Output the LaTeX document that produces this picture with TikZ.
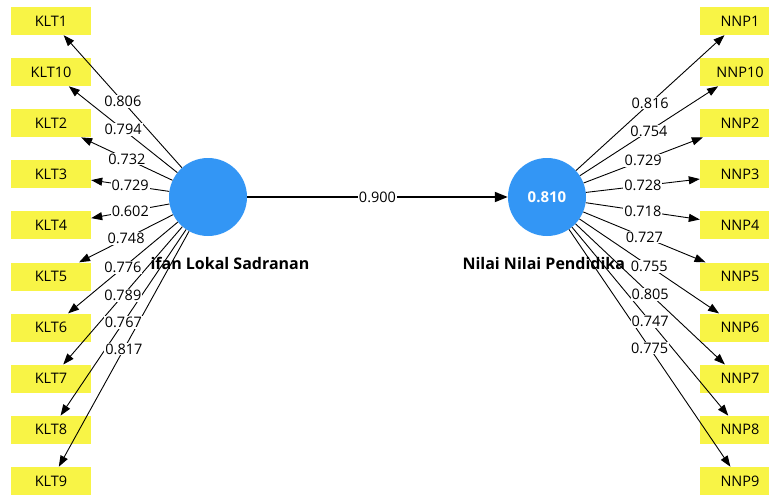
\documentclass[tikz,border=0pt]{standalone}
\usepackage{fontspec}
\setmainfont{Open Sans}
\usepackage{tikz}
\usetikzlibrary{arrows.meta, positioning, calc}
\definecolor{latblue}{RGB}{51, 150, 245}
\definecolor{indyellow}{RGB}{248, 244, 70}

\tikzset{
  latent/.style={circle, fill=latblue, minimum size=78pt, inner sep=0pt, text=white, font=\fontsize{15}{17}\selectfont\bfseries},
  indbox/.style={rectangle, fill=indyellow, minimum width=80pt, minimum height=28pt, inner sep=0pt, font=\fontsize{14.5}{17}\selectfont},
  ind/.style={-{Triangle[length=11pt, width=8pt]}, line width=0.9pt},
  path/.style={-{Triangle[length=13pt, width=10pt]}, line width=1.8pt},
  load/.style={fill=white, inner sep=1pt, font=\fontsize{14.5}{17}\selectfont},
  latname/.style={anchor=west, font=\fontsize{16}{19}\selectfont\bfseries}
}

\begin{document}
\begin{tikzpicture}[x=1pt, y=-1pt]
  \useasboundingbox (0, 0) rectangle (769, 495);
  \clip (0, 0) rectangle (769, 495);

  % Latent variables
  \node[latent] (klt) at (208, 197) {};
  \node[latent] (nnp) at (547, 197) {0.810};

  % Indicators of the left construct
  \node[indbox] (klt1) at (51, 21) {KLT1};
  \node[indbox] (klt10) at (51, 72.1) {KLT10};
  \node[indbox] (klt2) at (51, 123.2) {KLT2};
  \node[indbox] (klt3) at (51, 174.3) {KLT3};
  \node[indbox] (klt4) at (51, 225.4) {KLT4};
  \node[indbox] (klt5) at (51, 276.5) {KLT5};
  \node[indbox] (klt6) at (51, 327.6) {KLT6};
  \node[indbox] (klt7) at (51, 378.7) {KLT7};
  \node[indbox] (klt8) at (51, 429.8) {KLT8};
  \node[indbox] (klt9) at (51, 480.9) {KLT9};

  % Indicators of the right construct
  \node[indbox] (nnp1) at (740, 21) {NNP1};
  \node[indbox] (nnp10) at (740, 72.1) {NNP10};
  \node[indbox] (nnp2) at (740, 123.2) {NNP2};
  \node[indbox] (nnp3) at (740, 174.3) {NNP3};
  \node[indbox] (nnp4) at (740, 225.4) {NNP4};
  \node[indbox] (nnp5) at (740, 276.5) {NNP5};
  \node[indbox] (nnp6) at (740, 327.6) {NNP6};
  \node[indbox] (nnp7) at (740, 378.7) {NNP7};
  \node[indbox] (nnp8) at (740, 429.8) {NNP8};
  \node[indbox] (nnp9) at (740, 480.9) {NNP9};

  % Outer loadings, left
  \draw[ind] (klt) -- coordinate (a1) (klt1);
  \draw[ind] (klt) -- coordinate (a10) (klt10);
  \draw[ind] (klt) -- coordinate (a2) (klt2);
  \draw[ind] (klt) -- coordinate (a3) (klt3);
  \draw[ind] (klt) -- coordinate (a4) (klt4);
  \draw[ind] (klt) -- coordinate (a5) (klt5);
  \draw[ind] (klt) -- coordinate (a6) (klt6);
  \draw[ind] (klt) -- coordinate (a7) (klt7);
  \draw[ind] (klt) -- coordinate (a8) (klt8);
  \draw[ind] (klt) -- coordinate (a9) (klt9);

  % Outer loadings, right
  \draw[ind] (nnp) -- coordinate (b1) (nnp1);
  \draw[ind] (nnp) -- coordinate (b10) (nnp10);
  \draw[ind] (nnp) -- coordinate (b2) (nnp2);
  \draw[ind] (nnp) -- coordinate (b3) (nnp3);
  \draw[ind] (nnp) -- coordinate (b4) (nnp4);
  \draw[ind] (nnp) -- coordinate (b5) (nnp5);
  \draw[ind] (nnp) -- coordinate (b6) (nnp6);
  \draw[ind] (nnp) -- coordinate (b7) (nnp7);
  \draw[ind] (nnp) -- coordinate (b8) (nnp8);
  \draw[ind] (nnp) -- coordinate (b9) (nnp9);

  % Structural path
  \draw[path] (klt) -- node[load] (beta) {0.900} (nnp);

  % Loading values
  \node[load] (l1) at (a1) {0.806};
  \node[load] (l10) at (a10) {0.794};
  \node[load] (l2) at (a2) {0.732};
  \node[load] (l3) at (a3) {0.729};
  \node[load] (l4) at (a4) {0.602};
  \node[load] (l5) at (a5) {0.748};
  \node[load] (l6) at (a6) {0.776};
  \node[load] (l7) at (a7) {0.789};
  \node[load] (l8) at (a8) {0.767};
  \node[load] (l9) at (a9) {0.817};

  \node[load] (r1) at (b1) {0.816};
  \node[load] (r10) at (b10) {0.754};
  \node[load] (r2) at (b2) {0.729};
  \node[load] (r3) at (b3) {0.728};
  \node[load] (r4) at (b4) {0.718};
  \node[load] (r5) at (b5) {0.727};
  \node[load] (r6) at (b6) {0.755};
  \node[load] (r7) at (b7) {0.805};
  \node[load] (r8) at (b8) {0.747};
  \node[load] (r9) at (b9) {0.775};

  % Construct names (cut off as in the output)
  \node[latname] (kltname) at (147, 263) {ifan Lokal Sadranan};
  \node[latname] (nnpname) at (459, 263) {Nilai Nilai Pendidika};
\end{tikzpicture}
\end{document}
